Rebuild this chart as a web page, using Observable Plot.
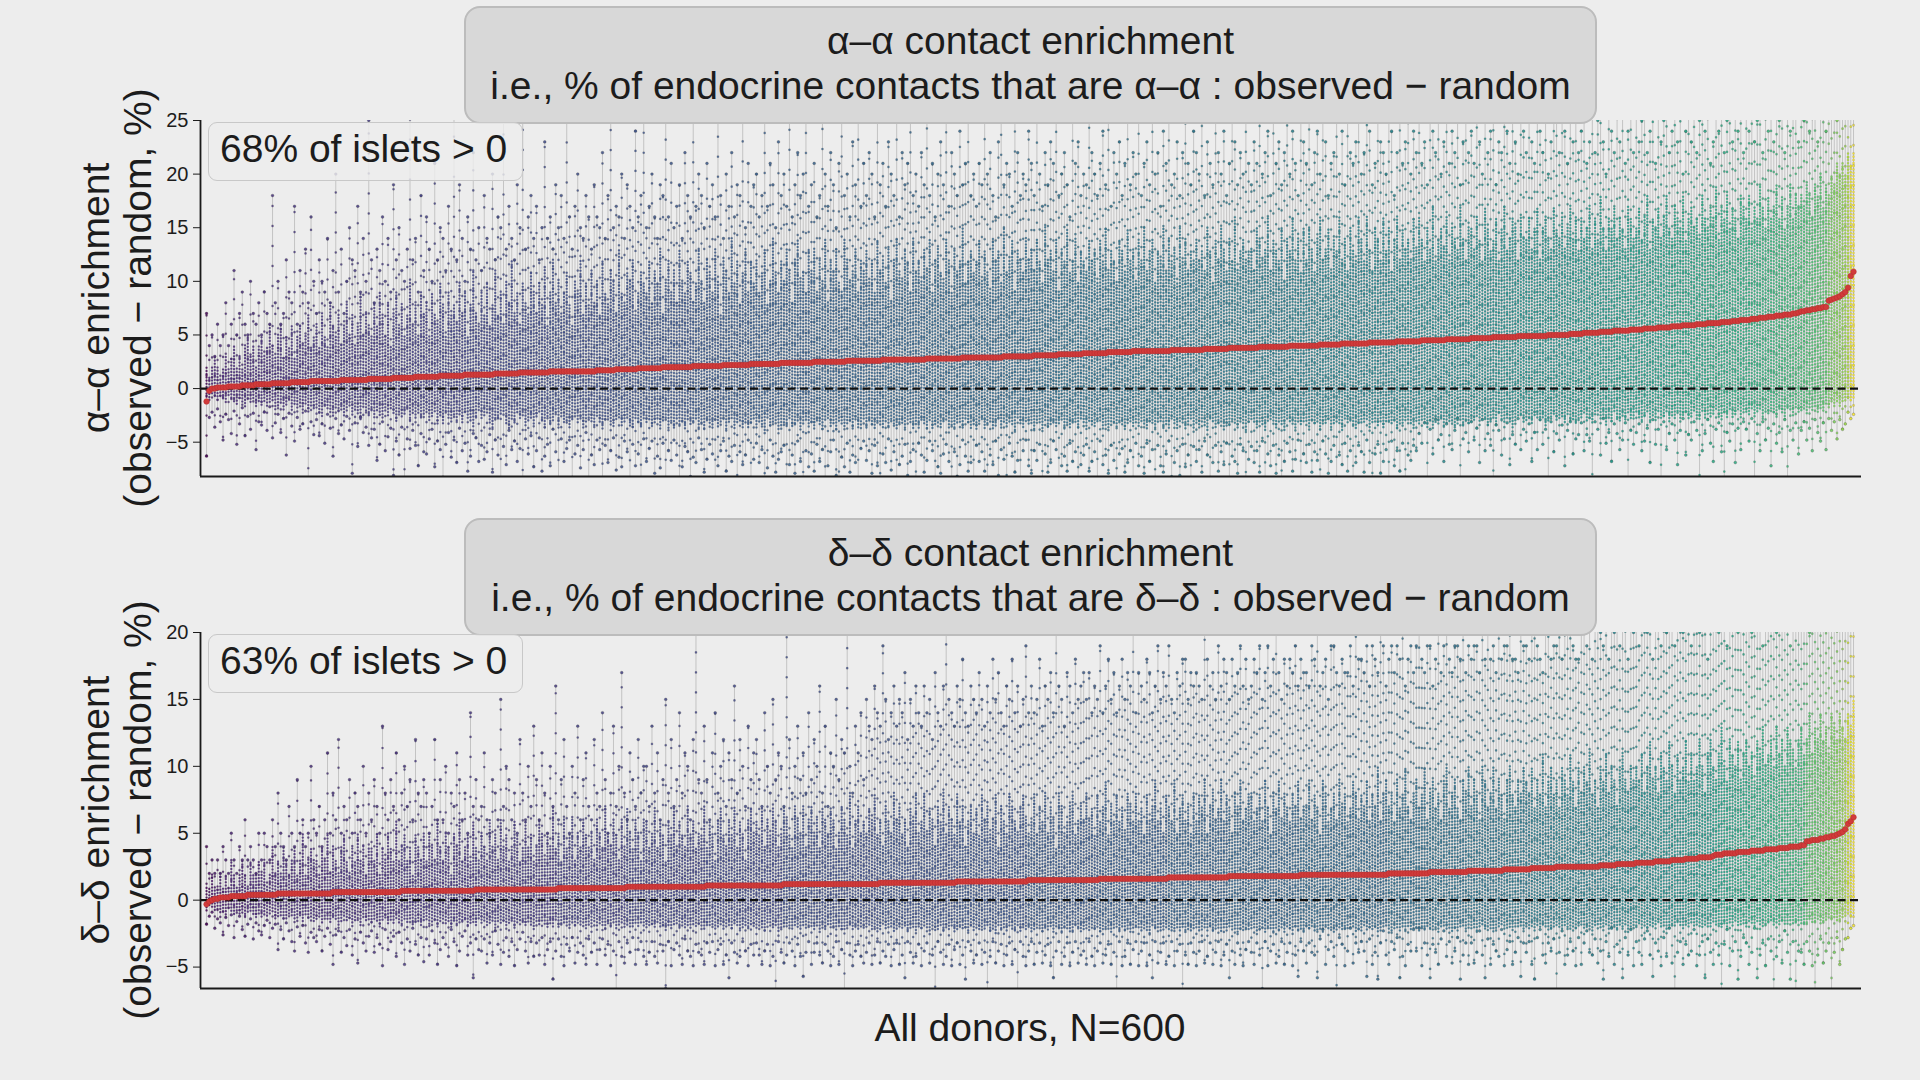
<!DOCTYPE html>
<html>
<head>
<meta charset="utf-8">
<script src="https://cdn.jsdelivr.net/npm/d3@7"></script>
<script src="https://cdn.jsdelivr.net/npm/@observablehq/plot@0.6"></script>
<style>
html, body { margin: 0; padding: 0; background: #ededed; }
#root { position: relative; width: 1920px; height: 1080px; overflow: hidden; font-family: "Liberation Sans", Arial, Helvetica, sans-serif; color: #1c1c1c; }
.panel { position: absolute; left: 0; }
.title { position: absolute; left: 464px; width: 1133px; height: 118px; background: #d8d8d8; border: 2px solid #bcbcbc; border-radius: 16px; box-sizing: border-box; text-align: center; font-size: 39px; line-height: 45px; padding-top: 10px; z-index: 3; white-space: nowrap; }
.note { position: absolute; left: 208px; width: 315px; height: 59px; background: rgba(237,237,237,0.82); border: 1.5px solid #c8c8c8; border-radius: 9px; box-sizing: border-box; font-size: 39px; line-height: 52px; padding-left: 11px; z-index: 3; white-space: nowrap; }
.ylab { position: absolute; font-size: 39px; line-height: 1; white-space: nowrap; transform: translate(-50%, -50%) rotate(-90deg); z-index: 3; }
.xlab { position: absolute; font-size: 39px; line-height: 1; white-space: nowrap; transform: translate(-50%, -50%); z-index: 3; }
</style>
</head>
<body>
<div id="root"></div>
<script>
// ---------- α–α panel (donors sorted by median) ----------
const medA = [
-1.2,-0.2,0.0,0.0,0.1,0.1,0.1,0.1,0.2,0.2,0.2,0.2,0.2,0.3,0.3,0.3,0.3,0.3,0.4,0.4,
0.4,0.4,0.4,0.4,0.5,0.5,0.5,0.5,0.5,0.5,0.5,0.6,0.6,0.6,0.6,0.6,0.6,0.6,0.7,0.7,
0.7,0.7,0.7,0.7,0.7,0.7,0.7,0.7,0.7,0.8,0.8,0.8,0.8,0.8,0.8,0.8,0.8,0.8,0.8,0.9,
0.9,0.9,0.9,0.9,0.9,0.9,0.9,0.9,1.0,1.0,1.0,1.0,1.0,1.0,1.0,1.0,1.1,1.1,1.1,1.1,
1.1,1.1,1.1,1.1,1.1,1.2,1.2,1.2,1.2,1.2,1.2,1.2,1.2,1.2,1.3,1.3,1.3,1.3,1.3,1.3,
1.3,1.3,1.3,1.3,1.3,1.4,1.4,1.4,1.4,1.4,1.4,1.4,1.4,1.4,1.5,1.5,1.5,1.5,1.5,1.5,
1.5,1.5,1.5,1.5,1.5,1.6,1.6,1.6,1.6,1.6,1.6,1.6,1.6,1.6,1.6,1.6,1.6,1.6,1.6,1.6,
1.6,1.6,1.7,1.7,1.7,1.7,1.7,1.7,1.7,1.8,1.8,1.8,1.8,1.8,1.8,1.8,1.8,1.9,1.9,1.9,
1.9,1.9,1.9,1.9,1.9,1.9,2.0,2.0,2.0,2.0,2.0,2.0,2.0,2.0,2.0,2.0,2.0,2.1,2.1,2.1,
2.1,2.1,2.1,2.1,2.1,2.1,2.1,2.1,2.2,2.2,2.2,2.2,2.2,2.2,2.2,2.2,2.2,2.2,2.3,2.3,
2.3,2.3,2.3,2.3,2.3,2.3,2.3,2.3,2.3,2.4,2.4,2.4,2.4,2.4,2.4,2.4,2.4,2.4,2.4,2.4,
2.4,2.5,2.5,2.5,2.5,2.5,2.5,2.5,2.5,2.5,2.5,2.5,2.5,2.6,2.6,2.6,2.6,2.6,2.6,2.6,
2.6,2.6,2.6,2.6,2.6,2.6,2.7,2.7,2.7,2.7,2.7,2.7,2.7,2.7,2.7,2.7,2.7,2.7,2.7,2.7,
2.7,2.7,2.8,2.8,2.8,2.8,2.8,2.8,2.8,2.8,2.8,2.8,2.8,2.8,2.8,2.9,2.9,2.9,2.9,2.9,
2.9,2.9,2.9,2.9,2.9,2.9,2.9,2.9,2.9,2.9,3.0,3.0,3.0,3.0,3.0,3.0,3.0,3.0,3.0,3.0,
3.0,3.1,3.1,3.1,3.1,3.1,3.1,3.1,3.1,3.1,3.2,3.2,3.2,3.2,3.2,3.2,3.2,3.2,3.2,3.3,
3.3,3.3,3.3,3.3,3.3,3.3,3.3,3.3,3.4,3.4,3.4,3.4,3.4,3.4,3.4,3.4,3.4,3.5,3.5,3.5,
3.5,3.5,3.5,3.5,3.5,3.5,3.5,3.5,3.5,3.5,3.5,3.6,3.6,3.6,3.6,3.6,3.6,3.6,3.6,3.6,
3.6,3.6,3.6,3.7,3.7,3.7,3.7,3.7,3.7,3.7,3.7,3.7,3.8,3.8,3.8,3.8,3.8,3.8,3.8,3.8,
3.8,3.8,3.8,3.9,3.9,3.9,3.9,3.9,3.9,3.9,3.9,3.9,3.9,3.9,4.0,4.0,4.0,4.0,4.0,4.0,
4.0,4.0,4.0,4.0,4.0,4.1,4.1,4.1,4.1,4.1,4.1,4.1,4.1,4.2,4.2,4.2,4.2,4.2,4.2,4.2,
4.2,4.2,4.2,4.3,4.3,4.3,4.3,4.3,4.3,4.3,4.3,4.3,4.3,4.4,4.4,4.4,4.4,4.4,4.4,4.4,
4.4,4.4,4.5,4.5,4.5,4.5,4.5,4.5,4.5,4.5,4.5,4.6,4.6,4.6,4.6,4.6,4.6,4.6,4.6,4.6,
4.7,4.7,4.7,4.7,4.7,4.7,4.7,4.7,4.8,4.8,4.8,4.8,4.8,4.8,4.8,4.8,4.8,4.9,4.9,4.9,
4.9,4.9,4.9,4.9,4.9,4.9,4.9,4.9,5.0,5.0,5.0,5.0,5.0,5.0,5.0,5.0,5.1,5.1,5.1,5.1,
5.1,5.2,5.2,5.2,5.2,5.2,5.2,5.3,5.3,5.3,5.3,5.3,5.4,5.4,5.4,5.4,5.4,5.4,5.5,5.5,
5.5,5.5,5.5,5.6,5.6,5.6,5.6,5.6,5.7,5.7,5.7,5.7,5.7,5.8,5.8,5.8,5.8,5.9,5.9,5.9,
5.9,5.9,6.0,6.0,6.0,6.0,6.1,6.1,6.1,6.1,6.1,6.2,6.2,6.2,6.2,6.3,6.3,6.3,6.4,6.4,
6.4,6.4,6.5,6.5,6.5,6.6,6.6,6.6,6.7,6.7,6.7,6.8,6.8,6.8,6.9,6.9,6.9,7.0,7.0,7.1,
7.2,7.2,7.3,7.3,7.4,7.4,7.5,7.5,7.6,7.6,8.2,8.3,8.4,8.5,8.6,8.8,9.0,9.4,10.5,10.9
];
const hiA = [
7,4,5,3,6,4,5,8,4,6,11,5,7,9,6,5,10,7,6,8,
5,9,7,6,18,8,10,6,7,12,9,8,17,6,11,9,13,8,16,10,
7,12,10,9,14,8,11,20,9,13,7,10,15,12,11,17,9,14,10,25,
12,8,13,11,16,10,14,9,19,12,15,11,10,13,27,12,14,9,18,11,
16,13,10,21,12,15,14,11,17,13,27,12,19,14,10,16,13,22,12,15,
11,18,14,13,20,12,16,15,27,13,17,14,12,19,15,27,13,16,18,14,
17,12,15,23,14,16,13,19,15,18,14,27,16,13,17,20,15,14,18,16,
13,19,16,15,22,14,18,27,15,17,16,20,14,19,17,15,24,16,18,27,
15,17,20,16,14,19,18,27,16,21,15,17,19,14,22,18,16,27,17,20,
18,15,21,17,19,16,27,18,14,20,17,22,16,19,18,27,15,21,17,19,
20,16,18,27,17,21,19,15,23,18,20,17,27,16,19,22,18,20,27,17,
19,21,16,18,27,20,17,22,19,15,21,27,18,20,16,23,19,27,17,21,
18,22,20,16,27,19,21,17,23,20,18,27,16,22,19,21,27,18,20,17,
22,19,27,18,21,16,20,23,19,27,17,22,20,18,24,19,21,27,18,20,
17,21,19,27,20,22,18,16,23,27,19,21,20,17,27,22,18,20,19,24,
21,18,27,20,17,22,19,23,21,27,18,20,22,19,16,27,21,23,18,20,
19,27,22,20,18,21,24,19,27,17,22,20,23,18,21,27,19,22,20,27,
18,21,23,19,27,20,22,17,24,21,27,19,20,23,18,22,27,21,19,24,
22,20,27,18,23,21,19,27,22,20,24,18,21,27,23,19,22,20,27,21,
19,23,21,27,20,22,24,18,27,21,23,19,22,27,20,24,21,18,27,23,
21,27,19,22,24,20,27,23,18,21,22,27,20,24,19,27,22,21,23,27,
20,22,27,24,19,21,27,23,22,20,27,24,18,22,27,21,23,27,20,24,
22,27,21,23,19,27,24,22,27,20,23,27,21,24,22,27,19,23,27,22,
24,21,27,23,20,27,22,24,27,19,23,22,27,24,21,27,23,20,27,24,
22,27,23,21,27,24,22,27,20,23,27,25,22,27,24,21,27,23,27,22,
24,27,21,23,27,22,25,27,23,20,27,24,22,27,23,27,21,24,27,22,
27,23,25,27,22,24,27,21,27,23,25,27,22,24,27,23,27,20,24,27,
23,27,22,25,27,24,27,21,23,27,24,27,22,25,27,23,27,24,27,22,
27,24,27,23,25,27,22,27,24,27,23,27,25,27,22,27,24,27,27,23,
27,25,27,24,27,27,23,27,27,24,27,27,27,25,27,27,27,27,27,27
];
const loA = [
-6.3,-2.7,-2.2,-3.6,-1.9,-3.1,-4.8,-2.4,-2.9,-4.2,-2.1,-5.2,-3.3,-1.8,-4.4,-2.6,-3.8,-2.3,-5.7,-3.1,
-3.4,-2.2,-3.9,-1.7,-4.6,-3.2,-2.4,-4.1,-2.8,-6.2,-2.3,-3.5,-4.9,-2.7,-3.8,-3.3,-2.1,-8.8,-3.1,-4.3,
-2.9,-4.4,-3.3,-5.1,-2.4,-3.7,-6.3,-2.8,-4.2,-3.4,-4.7,-2.6,-3.9,-7.9,-3.2,-5.4,-2.7,-4.1,-3.6,-5.3,
-4.6,-3.8,-6.7,-5.2,-3.1,-5.8,-4.5,-3.7,-8.1,-4.9,-6.2,-3.6,-8.9,-4.7,-5.6,-3.9,-5.3,-7.2,-4.2,-5.9,
-6.1,-4.7,-3.8,-7.3,-4.9,-5.7,-9.6,-5.2,-4.1,-6.4,-4.8,-6.9,-3.7,-5.8,-5.1,-7.7,-6.3,-4.2,-4.6,-6.8,
-5.3,-6.6,-5.9,-4.3,-7.8,-4.8,-6.2,-9.8,-5.4,-7.1,-3.9,-5.7,-4.9,-6.8,-5.6,-8.7,-4.7,-6.1,-4.4,-7.3,
-5.8,-4.6,-7.7,-6.3,-5.2,-7.2,-3.8,-5.9,-9.9,-4.7,-6.8,-5.6,-4.8,-8.3,-6.1,-5.3,-7.4,-5.7,-4.1,-8.8,
-6.2,-7.1,-4.8,-5.7,-9.7,-5.3,-6.9,-5.8,-4.6,-7.6,-6.4,-7.3,-4.9,-5.9,-8.6,-5.2,-7.2,-6.1,-9.8,-4.7,
-6.8,-5.6,-4.9,-7.9,-6.3,-7.4,-5.1,-8.8,-5.8,-6.7,-4.8,-6.2,-9.9,-7.3,-5.4,-5.9,-8.2,-6.4,-6.9,-4.6,
-5.7,-7.8,-6.6,-5.2,-6.1,-9.6,-7.2,-5.8,-4.9,-7.7,-6.3,-6.8,-5.3,-8.9,-5.9,-7.1,-6.2,-4.8,-8.3,-6.6,
-5.1,-6.9,-5.7,-9.8,-7.4,-4.8,-6.3,-7.8,-6.6,-5.9,-5.3,-8.7,-7.1,-6.2,-7.9,-4.9,-6.8,-9.7,-5.8,-7.3,
-6.1,-7.7,-5.2,-6.8,-5.7,-8.9,-7.2,-5.9,-4.8,-8.1,-9.9,-6.4,-7.3,-5.1,-7.8,-6.2,-6.9,-8.8,-5.6,-4.9,
-6.7,-5.8,-7.9,-5.3,-7.2,-9.8,-6.1,-6.9,-4.7,-7.6,-5.9,-8.8,-7.1,-6.3,-5.2,-8.1,-6.8,-5.7,-9.9,-5.1,
-6.2,-7.8,-6.7,-4.9,-5.8,-8.9,-7.3,-7.9,-6.1,-5.2,-6.8,-9.7,-5.9,-8.2,-7.1,-4.8,-6.3,-7.7,-6.9,-8.8,
-5.3,-6.8,-5.9,-7.7,-9.8,-6.2,-7.1,-4.9,-8.1,-5.7,-6.6,-8.9,-5.1,-6.3,-7.8,-6.7,-9.9,-5.8,-4.8,-7.2,
-7.9,-5.8,-6.7,-5.2,-8.8,-6.1,-7.8,-6.9,-4.9,-5.7,-9.7,-7.2,-6.3,-7.7,-5.1,-6.8,-5.9,-8.7,-7.1,-6.2,
-5.2,-7.7,-6.8,-5.9,-9.8,-4.9,-7.1,-6.2,-7.9,-5.3,-6.7,-8.8,-6.1,-5.6,-7.8,-6.9,-5.8,-9.9,-5.1,-7.2,
-6.3,-7.9,-5.1,-6.8,-5.7,-8.9,-5.3,-7.2,-7.8,-6.1,-4.9,-9.8,-6.9,-5.8,-8.1,-5.2,-7.3,-6.2,-8.8,-5.4,
-6.8,-5.7,-7.8,-4.9,-6.2,-9.9,-6.9,-5.3,-7.7,-5.9,-7.1,-5.1,-8.7,-6.3,-6.8,-7.9,-5.2,-5.8,-9.7,-6.6,
-5.4,-6.9,-5.8,-7.8,-4.9,-8.8,-6.1,-7.2,-5.3,-7.9,-6.2,-9.8,-6.8,-5.1,-5.9,-7.7,-6.6,-4.8,-8.9,-6.1,
-6.9,-5.2,-7.8,-5.9,-6.7,-9.7,-4.9,-6.1,-7.9,-6.8,-5.3,-8.8,-6.2,-7.1,-5.1,-7.7,-5.8,-9.9,-6.9,-5.3,
-5.9,-7.8,-4.8,-6.9,-8.7,-6.1,-5.2,-7.9,-6.8,-5.7,-9.8,-4.9,-7.2,-5.8,-7.7,-5.1,-8.9,-6.2,-6.7,-5.3,
-5.8,-4.2,-5.1,-3.2,-9.9,-3.8,-6.1,-2.9,-4.8,-4.3,-6.8,-3.3,-5.2,-5.7,-3.9,-2.8,-8.8,-4.7,-4.1,-5.9,
-3.1,-4.8,-3.7,-6.9,-2.9,-5.8,-4.2,-5.3,-9.8,-3.4,-3.9,-6.2,-4.7,-3.2,-7.1,-4.3,-5.2,-2.8,-5.7,-3.8,
-4.9,-3.3,-6.8,-4.1,-5.7,-2.9,-5.2,-3.8,-8.9,-3.1,-5.9,-4.2,-4.8,-3.4,-7.2,-3.9,-3.1,-6.1,-4.7,-4.3,
-3.2,-5.8,-4.3,-4.9,-9.9,-3.1,-3.8,-6.2,-2.8,-5.1,-4.1,-6.8,-3.3,-4.2,-5.7,-4.8,-3.2,-8.8,-3.9,-5.2,
-4.1,-3.3,-5.8,-4.9,-3.7,-6.9,-2.9,-5.2,-3.8,-9.8,-3.1,-5.7,-4.2,-3.3,-4.8,-7.1,-3.9,-2.8,-6.2,-4.3,
-4.8,-3.1,-3.9,-8.9,-5.8,-4.2,-2.9,-5.1,-6.8,-3.8,-3.2,-5.9,-9.9,-4.1,-4.9,-3.3,-6.9,-3.7,-5.7,-3.1,
-3.8,-4.9,-2.8,-9.8,-4.2,-5.8,-3.1,-4.8,-3.7,-7.2,-3.3,-5.1,-4.1,-5.9,-2.9,-8.9,-3.9,-4.8,-3.2,-6.1,
-3.9,-3.1,-4.8,-3.7,-5.8,-2.9,-4.1,-4.9,-3.2,-5.7,-2.8,-3.9,-3.1,-4.7,-2.9,-3.8,-3.3,-2.2,-2.8,-2.4
];
const upA = [
2,1,2,3,2,1,2,3,2,3,4,2,3,2,4,5,3,4,2,4,
5,3,4,6,4,3,5,6,3,5,4,6,3,5,6,4,5,7,4,5,
6,4,7,5,4,8,6,5,7,4,6,8,5,7,4,6,9,5,7,6,
5,8,6,9,7,5,8,4,7,9,6,8,5,7,10,6,8,5,9,7,
8,5,9,7,6,10,8,5,9,7,8,6,10,7,9,5,8,11,7,6,
9,7,10,6,8,11,7,9,6,10,8,12,7,9,6,10,8,7,11,9,
7,10,8,11,6,9,12,8,10,7,9,11,8,6,10,9,12,7,10,8,
11,8,10,7,12,9,8,11,10,7,13,9,8,11,10,12,7,9,11,10,
9,12,8,11,10,13,7,10,12,9,11,8,13,10,9,12,11,8,10,13,
10,8,12,11,9,13,10,7,12,11,9,14,10,12,8,11,13,9,12,10,
12,9,11,13,8,10,14,11,9,12,10,13,11,8,12,14,10,11,9,13,
11,13,9,12,10,14,8,12,11,13,10,9,14,12,10,11,13,9,12,11,
13,10,12,9,14,11,12,10,13,8,12,14,11,10,13,12,9,14,11,12,
10,13,11,14,9,12,13,11,10,14,12,9,13,11,12,15,10,12,13,11,
12,14,10,13,11,9,14,12,13,10,15,11,12,14,9,13,12,11,14,12,
13,11,14,12,10,15,12,13,11,14,9,13,12,15,11,12,14,10,13,12,
11,14,12,13,10,14,12,15,11,13,12,10,14,13,11,15,12,13,10,14,
12,15,11,13,14,10,13,12,15,11,14,12,13,10,15,12,14,11,13,12,
14,12,13,11,15,13,10,14,12,15,13,11,14,12,16,11,13,14,12,13,
13,11,15,14,12,13,16,11,14,13,12,15,10,14,13,16,12,14,11,15,
12,15,13,11,14,16,12,13,15,11,14,13,16,12,14,11,15,13,12,16,
14,12,16,13,11,15,14,12,16,13,15,11,14,16,12,15,13,14,12,16,
13,16,14,12,15,13,17,12,14,15,13,16,12,15,14,13,17,14,12,15,
15,13,16,14,12,17,15,13,14,16,12,15,17,13,14,16,15,12,16,14,
14,16,13,15,17,12,15,16,14,13,17,15,14,16,13,15,17,14,16,13,
16,14,15,17,13,16,14,18,15,13,16,15,17,14,16,15,13,17,16,14,
15,17,14,16,18,13,16,15,17,14,16,18,15,14,17,16,15,18,14,16,
17,15,16,14,18,16,15,17,16,19,14,17,16,18,15,17,16,14,18,17,
16,18,15,17,16,19,17,15,18,16,17,19,16,18,15,17,19,16,18,17,
18,17,19,18,16,19,18,20,17,19,18,20,19,21,20,21,20,22,21,22
];
const dnA = [
-0.8,-1.1,-0.7,-0.9,-1.2,-0.8,-1.0,-1.3,-0.9,-1.1,-1.4,-1.6,-1.0,-1.3,-1.7,-1.2,-1.5,-1.1,-1.8,-1.3,
-1.6,-1.2,-1.9,-1.5,-1.3,-2.1,-1.7,-1.4,-2.0,-1.8,-1.3,-2.2,-1.6,-1.9,-1.4,-2.3,-1.7,-2.4,-1.8,-2.0,
-1.9,-2.3,-2.6,-1.8,-2.1,-2.4,-2.7,-1.9,-2.2,-2.0,-2.8,-2.3,-1.8,-2.6,-2.1,-2.4,-2.9,-2.0,-2.3,-2.7,
-2.2,-2.8,-2.1,-2.5,-3.0,-2.3,-2.7,-2.0,-2.4,-3.1,-2.2,-2.9,-2.6,-2.1,-3.2,-2.4,-2.8,-2.3,-3.0,-2.6,
-2.4,-3.1,-2.7,-2.2,-3.3,-2.8,-3.5,-2.3,-2.9,-3.2,-2.5,-3.0,-2.7,-3.4,-2.4,-2.9,-3.1,-3.6,-2.6,-2.3,
-3.0,-2.7,-2.4,-3.3,-3.7,-2.8,-3.1,-2.6,-2.3,-3.4,-3.8,-2.9,-3.2,-2.5,-3.0,-2.7,-3.6,-3.1,-2.8,-3.3,
-2.9,-2.4,-3.2,-3.8,-2.7,-3.4,-3.0,-2.5,-3.9,-2.8,-3.3,-3.1,-3.7,-2.9,-2.6,-3.4,-3.0,-3.8,-3.2,-2.8,
-3.1,-3.7,-2.8,-3.3,-3.9,-3.0,-2.7,-3.4,-3.8,-3.1,-2.9,-3.6,-3.2,-2.8,-3.5,-3.9,-3.0,-3.3,-3.7,-2.9,
-3.2,-2.9,-3.8,-3.4,-3.0,-3.9,-3.1,-2.8,-3.7,-3.3,-3.9,-3.0,-3.5,-3.2,-3.8,-2.9,-3.6,-3.3,-3.0,-3.8,
-3.3,-3.8,-3.0,-3.5,-3.9,-3.1,-3.7,-3.2,-2.9,-3.8,-3.4,-3.0,-3.9,-3.3,-3.1,-3.7,-3.2,-3.9,-3.4,-3.0,
-3.8,-3.2,-3.4,-3.9,-3.0,-3.7,-3.3,-3.1,-3.9,-3.5,-3.2,-3.8,-3.0,-3.7,-3.4,-3.1,-3.9,-3.3,-3.2,-3.8,
-3.3,-3.9,-3.1,-3.4,-3.8,-3.2,-3.0,-3.7,-3.4,-3.9,-3.1,-3.3,-3.8,-3.5,-3.2,-3.9,-3.0,-3.7,-3.4,-3.1,
-3.9,-3.2,-3.5,-3.8,-3.1,-3.4,-3.9,-3.3,-3.7,-3.0,-3.4,-3.8,-3.2,-3.5,-3.9,-3.1,-3.3,-3.8,-3.4,-3.7,
-3.2,-3.5,-3.9,-3.1,-3.8,-3.4,-3.2,-3.9,-3.3,-3.1,-3.8,-3.5,-3.7,-3.2,-3.4,-3.9,-3.0,-3.3,-3.8,-3.4,
-3.8,-3.3,-3.1,-3.9,-3.4,-3.2,-3.8,-3.5,-3.1,-3.9,-3.3,-3.7,-3.2,-3.4,-3.9,-3.0,-3.5,-3.8,-3.2,-3.4,
-3.3,-3.8,-3.2,-3.4,-3.9,-3.1,-3.7,-3.4,-3.2,-3.8,-3.5,-3.1,-3.9,-3.3,-3.7,-3.2,-3.4,-3.9,-3.0,-3.3,
-3.9,-3.1,-3.4,-3.8,-3.3,-3.2,-3.9,-3.5,-3.7,-3.1,-3.4,-3.8,-3.2,-3.5,-3.9,-3.3,-3.1,-3.8,-3.4,-3.7,
-3.2,-3.4,-3.8,-3.1,-3.5,-3.9,-3.3,-3.2,-3.8,-3.4,-3.7,-3.1,-3.5,-3.9,-3.2,-3.3,-3.8,-3.4,-3.1,-3.9,
-3.4,-3.8,-3.2,-3.5,-3.9,-3.1,-3.3,-3.8,-3.4,-3.2,-3.9,-3.5,-3.7,-3.1,-3.4,-3.8,-3.2,-3.3,-3.9,-3.4,
-3.1,-3.3,-3.8,-3.2,-3.4,-3.9,-3.3,-3.1,-3.5,-3.8,-3.2,-3.4,-3.9,-3.1,-3.3,-3.5,-3.8,-3.2,-3.4,-3.1,
-3.3,-3.8,-3.1,-3.4,-3.2,-3.9,-3.3,-3.5,-3.1,-3.8,-3.4,-3.2,-3.3,-3.9,-3.1,-3.4,-3.2,-3.5,-3.8,-3.3,
-3.2,-3.4,-3.1,-3.8,-3.3,-3.2,-3.5,-3.1,-3.9,-3.3,-3.2,-3.4,-3.1,-3.8,-3.3,-3.5,-3.2,-3.1,-3.4,-3.8,
-3.1,-3.3,-3.2,-3.4,-3.8,-3.1,-3.5,-3.2,-3.3,-3.1,-3.7,-3.4,-3.2,-3.1,-3.5,-3.3,-3.2,-3.7,-3.1,-3.4,
-3.2,-3.0,-2.6,-3.3,-3.1,-2.9,-3.6,-3.2,-2.8,-3.4,-2.5,-3.1,-3.3,-2.9,-3.2,-3.7,-3.0,-2.8,-2.6,-3.3,
-3.1,-2.8,-3.3,-2.5,-3.0,-3.2,-2.9,-3.6,-3.1,-2.7,-2.4,-3.2,-3.0,-2.8,-3.3,-2.5,-3.1,-2.9,-3.5,-3.0,
-2.9,-2.4,-3.1,-2.8,-3.2,-2.7,-2.3,-3.0,-2.9,-3.5,-2.8,-3.1,-2.4,-2.9,-3.2,-2.7,-3.0,-2.3,-2.8,-3.1,
-2.4,-2.9,-3.1,-2.7,-2.2,-3.0,-2.8,-3.2,-2.3,-2.9,-2.7,-2.2,-3.1,-2.8,-3.0,-2.3,-2.9,-2.6,-2.2,-2.8,
-2.9,-2.3,-2.7,-3.0,-2.2,-2.8,-2.4,-2.9,-2.6,-2.1,-2.8,-3.0,-2.3,-2.7,-2.2,-2.9,-2.6,-2.1,-2.8,-2.3,
-2.2,-2.7,-2.1,-2.8,-2.3,-2.0,-2.7,-2.2,-2.6,-2.1,-2.4,-2.8,-2.0,-2.3,-2.6,-2.1,-2.2,-2.7,-1.9,-2.3,
-2.1,-1.9,-2.6,-2.0,-2.2,-1.8,-2.3,-1.9,-2.1,-1.7,-2.0,-1.4,-1.8,-1.3,-1.7,-1.2,-1.4,-1.1,-1.3,-1.0
];

// ---------- δ–δ panel (donors sorted by median) ----------
const medB = [
-0.3,-0.1,0.0,0.1,0.1,0.2,0.2,0.2,0.2,0.3,0.3,0.3,0.3,0.3,0.3,0.4,0.4,0.4,0.4,0.4,
0.4,0.4,0.4,0.4,0.4,0.4,0.5,0.5,0.5,0.5,0.5,0.5,0.5,0.5,0.5,0.5,0.5,0.5,0.5,0.5,
0.5,0.5,0.5,0.5,0.5,0.5,0.6,0.6,0.6,0.6,0.6,0.6,0.6,0.6,0.6,0.6,0.6,0.6,0.6,0.6,
0.6,0.6,0.6,0.6,0.6,0.6,0.6,0.6,0.6,0.6,0.6,0.7,0.7,0.7,0.7,0.7,0.7,0.7,0.7,0.7,
0.7,0.7,0.7,0.7,0.7,0.7,0.7,0.7,0.7,0.7,0.7,0.7,0.7,0.7,0.7,0.7,0.7,0.7,0.8,0.8,
0.8,0.8,0.8,0.8,0.8,0.8,0.8,0.8,0.8,0.8,0.8,0.8,0.8,0.8,0.8,0.8,0.8,0.8,0.8,0.8,
0.8,0.8,0.8,0.8,0.8,0.8,0.8,0.8,0.9,0.9,0.9,0.9,0.9,0.9,0.9,0.9,0.9,0.9,0.9,0.9,
0.9,0.9,0.9,0.9,0.9,0.9,0.9,0.9,0.9,0.9,0.9,0.9,0.9,1.0,1.0,1.0,1.0,1.0,1.0,1.0,
1.0,1.0,1.0,1.0,1.0,1.0,1.0,1.0,1.0,1.0,1.0,1.0,1.0,1.0,1.0,1.0,1.0,1.0,1.0,1.0,
1.0,1.0,1.1,1.1,1.1,1.1,1.1,1.1,1.1,1.1,1.1,1.1,1.1,1.1,1.1,1.1,1.1,1.1,1.1,1.1,
1.1,1.1,1.1,1.1,1.1,1.1,1.1,1.1,1.1,1.1,1.2,1.2,1.2,1.2,1.2,1.2,1.2,1.2,1.2,1.2,
1.2,1.2,1.2,1.2,1.2,1.2,1.2,1.2,1.2,1.2,1.2,1.2,1.2,1.2,1.2,1.2,1.2,1.2,1.2,1.2,
1.2,1.2,1.2,1.2,1.2,1.3,1.3,1.3,1.3,1.3,1.3,1.3,1.3,1.3,1.3,1.3,1.3,1.3,1.3,1.3,
1.3,1.3,1.3,1.3,1.3,1.3,1.3,1.3,1.3,1.3,1.3,1.3,1.3,1.4,1.4,1.4,1.4,1.4,1.4,1.4,
1.4,1.4,1.4,1.4,1.4,1.4,1.4,1.4,1.4,1.4,1.4,1.4,1.4,1.4,1.4,1.4,1.4,1.4,1.4,1.5,
1.5,1.5,1.5,1.5,1.5,1.5,1.5,1.5,1.5,1.5,1.5,1.5,1.5,1.5,1.5,1.5,1.5,1.5,1.5,1.5,
1.5,1.5,1.5,1.5,1.5,1.6,1.6,1.6,1.6,1.6,1.6,1.6,1.6,1.6,1.6,1.6,1.6,1.6,1.6,1.6,
1.6,1.6,1.6,1.6,1.6,1.6,1.6,1.6,1.6,1.6,1.7,1.7,1.7,1.7,1.7,1.7,1.7,1.7,1.7,1.7,
1.7,1.7,1.7,1.7,1.7,1.7,1.7,1.7,1.7,1.7,1.7,1.7,1.8,1.8,1.8,1.8,1.8,1.8,1.8,1.8,
1.8,1.8,1.8,1.8,1.8,1.8,1.8,1.8,1.8,1.8,1.8,1.8,1.8,1.8,1.8,1.8,1.8,1.8,1.9,1.9,
1.9,1.9,1.9,1.9,1.9,1.9,1.9,1.9,1.9,1.9,1.9,1.9,1.9,1.9,1.9,1.9,1.9,1.9,1.9,1.9,
1.9,1.9,1.9,1.9,1.9,1.9,1.9,1.9,1.9,1.9,2.0,2.0,2.0,2.0,2.0,2.0,2.0,2.0,2.0,2.0,
2.0,2.0,2.0,2.0,2.0,2.1,2.1,2.1,2.1,2.1,2.1,2.1,2.1,2.1,2.1,2.1,2.1,2.1,2.1,2.2,
2.2,2.2,2.2,2.2,2.2,2.2,2.2,2.2,2.2,2.2,2.2,2.2,2.3,2.3,2.3,2.3,2.3,2.3,2.3,2.3,
2.3,2.3,2.4,2.4,2.4,2.4,2.4,2.4,2.4,2.4,2.4,2.5,2.5,2.5,2.5,2.5,2.5,2.5,2.5,2.5,
2.5,2.5,2.5,2.5,2.5,2.5,2.5,2.6,2.6,2.6,2.6,2.6,2.6,2.7,2.7,2.7,2.7,2.7,2.7,2.7,
2.8,2.8,2.8,2.8,2.8,2.8,2.8,2.9,2.9,2.9,2.9,2.9,2.9,3.0,3.0,3.0,3.0,3.0,3.1,3.1,
3.1,3.1,3.1,3.2,3.2,3.2,3.2,3.2,3.3,3.4,3.4,3.4,3.5,3.5,3.5,3.5,3.5,3.6,3.6,3.6,
3.6,3.6,3.7,3.7,3.7,3.7,3.7,3.8,3.8,3.8,3.8,3.8,3.9,3.9,3.9,3.9,4.0,4.0,4.0,4.0,
4.1,4.1,4.4,4.4,4.5,4.5,4.5,4.6,4.6,4.7,4.7,4.8,4.8,4.9,5.0,5.1,5.3,5.7,5.9,6.2
];
const hiB = [
4,2,3,2,3,2,4,3,2,5,3,2,4,3,6,3,4,3,2,5,
3,5,4,3,6,4,8,5,4,3,7,5,4,9,5,6,4,5,10,6,
5,7,4,6,11,5,8,6,12,5,7,6,9,5,8,7,6,10,5,8,
6,9,7,5,13,8,6,9,7,11,6,8,10,7,9,6,12,8,7,9,
8,5,7,12,6,9,6,10,5,8,7,11,9,6,8,5,14,7,9,6,
7,11,6,5,9,8,6,15,7,10,9,6,8,5,12,8,6,10,7,13,
9,6,11,8,5,10,7,16,6,9,12,7,5,10,8,13,6,9,11,7,
6,12,8,7,14,9,5,8,13,7,10,17,8,6,11,9,7,12,8,10,
10,7,13,8,11,6,9,15,8,12,7,9,14,8,11,10,6,12,21,9,
8,13,9,6,11,14,8,10,12,7,11,9,16,8,12,10,7,13,9,11,
12,9,7,14,10,8,15,9,11,10,7,21,12,8,10,13,9,11,8,14,
9,12,10,16,8,13,7,11,10,15,9,12,11,21,10,8,13,11,14,9,
15,13,12,16,14,13,19,15,12,14,16,13,15,14,17,12,15,13,16,14,
13,16,14,15,12,17,14,13,16,21,15,14,13,16,15,18,14,13,16,15,
14,17,15,13,16,14,18,15,17,14,13,16,15,18,14,16,13,15,19,14,
16,14,15,18,13,16,15,17,14,21,16,15,13,17,16,14,18,15,16,17,
15,17,14,16,15,19,14,16,18,15,17,14,16,18,15,17,16,21,14,17,
16,15,18,17,14,16,19,15,17,16,19,15,14,17,16,18,18,15,17,16,
17,16,15,21,18,16,17,15,19,16,18,17,15,18,16,17,19,16,18,15,
16,18,17,19,15,17,19,16,18,21,17,15,18,16,18,17,19,16,18,17,
17,16,19,18,21,16,17,18,15,19,19,17,16,18,17,17,19,16,21,18,
18,17,19,16,19,18,17,21,19,16,18,19,17,19,18,21,16,18,19,17,
19,21,18,17,19,19,16,18,20,17,19,21,18,17,19,19,18,21,17,19,
18,19,19,17,21,18,20,18,19,17,21,18,19,19,20,18,18,17,21,19,
19,18,20,21,19,18,17,21,20,18,19,19,21,18,20,20,21,19,18,18,
20,21,19,21,18,21,21,20,19,21,18,21,20,21,19,21,21,18,21,20,
21,19,21,21,20,21,18,21,21,19,21,20,21,21,19,21,21,20,21,21,
19,21,21,20,21,21,18,21,21,21,20,21,21,19,21,21,21,20,21,21,
21,21,20,21,21,21,19,21,21,21,21,20,21,21,21,21,19,21,21,21,
21,21,21,20,21,21,21,21,21,21,21,21,21,21,21,21,21,21,21,21
];
const loB = [
-1.8,-1.2,-0.9,-2.1,-1.4,-1.7,-2.6,-1.3,-1.9,-1.1,-2.8,-1.6,-1.2,-2.2,-2.7,-1.8,-1.4,-2.9,-1.7,-2.3,
-2.6,-1.9,-1.5,-2.8,-2.1,-1.8,-3.7,-2.2,-2.9,-1.7,-2.3,-3.1,-3.8,-2.0,-2.7,-1.9,-3.2,-3.9,-2.4,-2.8,
-3.1,-2.2,-3.8,-2.7,-2.1,-3.3,-4.8,-2.6,-2.3,-3.9,-2.8,-3.4,-2.2,-4.1,-2.9,-4.7,-2.4,-3.2,-3.8,-2.7,
-2.3,-3.9,-2.8,-3.3,-4.9,-2.2,-3.7,-3.1,-2.7,-4.2,-2.4,-3.2,-4.8,-2.9,-3.8,-2.1,-3.3,-4.1,-2.8,-4.6,
-2.9,-4.1,-2.3,-3.2,-4.8,-3.7,-2.8,-3.3,-4.2,-2.2,-3.1,-4.9,-3.8,-2.7,-2.3,-4.1,-3.2,-5.8,-2.9,-3.7,
-3.8,-2.9,-4.7,-3.2,-4.1,-2.3,-3.3,-4.8,-3.9,-2.8,-4.2,-3.1,-4.9,-3.7,-2.9,-2.4,-3.8,-4.7,-3.1,-4.2,
-3.2,-4.1,-2.8,-4.8,-3.7,-3.1,-5.9,-3.8,-2.9,-4.2,-4.9,-3.3,-3.8,-2.8,-4.7,-3.9,-3.2,-4.1,-4.8,-2.9,
-3.9,-3.2,-4.8,-3.7,-2.9,-4.1,-3.3,-4.9,-3.8,-6.7,-3.1,-4.2,-4.7,-3.2,-3.9,-2.8,-4.8,-3.7,-3.1,-4.2,
-4.8,-3.9,-3.1,-4.2,-4.7,-3.3,-3.8,-6.6,-3.1,-4.9,-3.7,-3.2,-4.1,-4.8,-2.9,-3.8,-4.2,-4.9,-3.3,-3.9,
-4.1,-4.8,-3.2,-3.9,-3.1,-4.9,-3.7,-3.3,-4.8,-4.1,-5.8,-3.2,-3.9,-4.7,-4.2,-3.1,-3.8,-4.9,-3.3,-4.1,
-3.2,-4.1,-4.8,-3.8,-3.3,-4.9,-4.2,-6.7,-3.1,-3.9,-4.7,-4.1,-3.2,-3.8,-4.9,-3.3,-4.2,-5.7,-3.9,-3.1,
-4.8,-3.9,-3.2,-4.1,-4.7,-3.3,-3.8,-4.9,-4.2,-3.1,-4.8,-3.7,-6.8,-3.2,-4.1,-4.9,-3.8,-3.3,-4.2,-4.7,
-3.9,-3.2,-4.8,-4.1,-3.1,-4.7,-3.8,-4.2,-3.3,-4.9,-3.7,-3.2,-4.8,-4.1,-5.8,-3.1,-3.9,-4.7,-4.2,-3.3,
-4.9,-3.8,-3.2,-4.7,-4.1,-6.7,-3.1,-3.9,-4.8,-4.2,-3.3,-4.9,-3.7,-3.2,-4.8,-4.1,-5.9,-3.1,-3.8,-4.7,
-4.1,-3.2,-4.8,-3.9,-6.8,-4.2,-3.1,-4.7,-3.8,-3.3,-4.9,-4.1,-3.2,-4.8,-3.7,-6.7,-3.1,-4.2,-4.9,-3.8,
-3.1,-4.8,-3.9,-3.2,-4.7,-4.1,-3.3,-4.9,-5.8,-3.8,-3.1,-4.8,-4.2,-3.2,-4.9,-3.9,-3.1,-4.7,-4.1,-3.8,
-4.8,-3.1,-4.2,-4.9,-3.8,-3.2,-4.7,-4.1,-3.3,-4.8,-3.9,-6.8,-3.1,-4.9,-4.2,-3.2,-4.8,-3.7,-3.1,-4.9,
-3.8,-3.2,-4.9,-4.1,-5.8,-3.1,-4.7,-3.9,-3.2,-4.8,-4.2,-3.1,-4.9,-3.8,-3.3,-6.7,-4.1,-4.8,-3.2,-3.9,
-4.9,-3.8,-3.1,-4.7,-4.2,-3.2,-4.8,-3.9,-3.1,-4.9,-4.1,-3.3,-5.8,-3.8,-4.8,-3.2,-4.1,-4.9,-3.7,-3.1,
-3.9,-4.8,-3.2,-4.1,-6.8,-3.1,-4.9,-3.8,-3.3,-4.7,-4.2,-3.1,-4.8,-3.9,-3.2,-4.9,-4.1,-5.7,-3.1,-3.8,
-4.7,-3.2,-3.9,-4.1,-5.8,-2.9,-2.2,-4.8,-3.7,-3.1,-4.2,-6.8,-2.8,-3.3,-4.9,-3.8,-2.1,-4.7,-3.2,-3.9,
-3.1,-3.8,-5.7,-2.9,-4.8,-3.9,-5.9,-3.2,-2.3,-4.1,-4.8,-3.1,-3.7,-2.8,-5.8,-4.2,-4.9,-3.3,-3.8,-2.2,
-3.8,-2.1,-4.9,-3.2,-4.1,-5.8,-3.3,-3.9,-4.8,-2.9,-2.3,-4.2,-3.1,-4.7,-3.8,-2.8,-5.9,-4.1,-3.2,-4.8,
-3.2,-4.7,-3.9,-2.3,-4.1,-5.8,-2.9,-4.8,-3.3,-3.8,-4.2,-2.2,-4.9,-3.7,-3.1,-4.8,-3.9,-2.8,-5.7,-3.2,
-3.9,-3.1,-4.8,-5.9,-2.8,-2.2,-4.1,-4.7,-3.2,-3.8,-2.9,-6.8,-3.9,-2.3,-4.8,-4.1,-3.1,-3.8,-4.9,-2.8,
-4.8,-3.2,-2.3,-3.9,-4.1,-2.9,-4.7,-3.8,-5.9,-3.1,-4.2,-2.1,-4.8,-3.3,-3.9,-5.8,-2.8,-4.1,-2.2,-4.9,
-3.1,-3.9,-4.8,-2.9,-2.3,-4.1,-5.7,-3.2,-3.8,-4.9,-2.8,-4.2,-2.1,-4.7,-6.8,-3.9,-3.1,-4.8,-3.3,-4.1,
-3.8,-2.2,-4.9,-4.1,-3.1,-5.8,-2.9,-3.9,-4.8,-3.2,-4.1,-6.7,-3.3,-2.2,-4.9,-3.8,-3.1,-5.9,-4.2,-2.8,
-3.2,-4.8,-3.9,-2.1,-5.8,-4.1,-3.2,-4.9,-2.9,-3.8,-6.8,-4.2,-3.1,-4.7,-2.3,-3.9,-5.9,-3.1,-6.7,-3.8,
-3.9,-4.8,-3.1,-3.8,-4.9,-6.8,-4.1,-2.9,-4.7,-3.8,-3.2,-6.7,-3.9,-2.8,-4.8,-3.7,-2.9,-2.8,-2.1,-1.9
];
const upB = [
1,1,2,1,1,2,1,2,1,3,2,1,2,3,2,1,3,2,2,3,
2,3,1,2,4,2,3,2,4,3,2,3,4,2,3,5,2,3,4,3,
3,2,4,3,5,2,4,3,2,4,5,3,2,4,3,5,3,4,2,4,
4,3,5,2,4,3,5,4,3,6,3,4,5,3,4,2,5,4,3,5,
3,5,4,3,6,4,3,5,4,2,5,4,6,3,4,5,3,6,4,3,
5,4,3,6,4,5,3,6,4,5,3,4,6,5,3,4,6,4,5,3,
4,6,5,3,5,4,7,4,5,3,6,4,5,6,3,5,4,6,5,4,
5,3,6,5,4,7,5,4,6,5,3,6,4,7,5,4,6,5,3,6,
6,4,5,7,4,6,5,3,6,5,7,4,6,5,4,7,5,6,4,5,
5,7,4,6,5,3,6,7,5,4,6,5,7,4,6,5,3,6,7,5,
6,5,7,4,6,5,7,6,4,5,7,6,5,4,7,6,5,7,4,6,
7,5,6,4,7,6,5,7,6,4,5,7,6,5,8,4,6,7,5,6,
5,7,6,8,5,6,4,7,6,5,8,6,7,5,6,4,7,6,8,5,
6,8,5,7,6,4,7,6,8,5,7,6,5,8,6,7,4,6,7,5,
7,5,8,6,7,5,6,8,4,7,6,5,8,7,6,5,7,8,6,5,
6,8,5,7,6,8,5,7,6,4,8,7,5,6,7,8,5,6,7,6,
8,6,7,5,8,6,7,9,5,7,6,8,6,7,5,8,7,6,8,6,
7,5,8,6,7,9,6,7,5,8,7,6,9,5,7,8,6,7,5,8,
6,8,7,9,5,7,8,6,7,9,6,8,7,5,8,7,9,6,7,8,
8,6,7,8,6,9,7,5,8,7,9,6,8,7,6,8,7,9,6,7,
7,9,6,8,7,5,9,8,6,7,8,6,9,7,8,6,7,9,8,6,
8,7,9,6,8,7,10,6,8,9,7,8,6,9,7,8,10,7,6,8,
9,7,8,10,6,8,9,7,8,6,9,10,7,8,9,7,6,9,8,10,
7,9,8,6,10,9,7,8,10,7,9,8,6,9,10,8,7,9,8,10,
9,8,10,7,9,8,11,7,9,10,8,9,7,10,9,8,11,9,7,10,
8,10,9,11,8,9,7,10,9,11,8,10,9,7,10,11,9,8,10,9,
10,9,11,8,10,12,9,10,8,11,10,9,12,10,8,11,9,10,12,9,
11,9,10,12,10,8,11,12,10,9,11,13,10,9,12,11,10,12,9,11,
12,10,11,9,12,11,13,10,11,12,10,13,11,12,10,13,12,11,10,12,
13,11,12,14,11,13,12,14,12,13,11,14,13,12,14,13,12,14,13,15
];
const dnB = [
-0.8,-0.6,-0.7,-0.9,-0.8,-1.0,-0.9,-1.1,-0.8,-1.0,-1.2,-0.9,-1.1,-1.0,-1.3,-1.1,-1.0,-1.2,-1.4,-1.1,
-1.3,-1.1,-1.4,-1.2,-1.0,-1.5,-1.3,-1.2,-1.4,-1.6,-1.2,-1.3,-1.5,-1.4,-1.2,-1.6,-1.3,-1.5,-1.4,-1.7,
-1.5,-1.3,-1.7,-1.4,-1.6,-1.8,-1.4,-1.5,-1.9,-1.6,-1.4,-1.7,-1.5,-1.8,-1.6,-1.4,-1.9,-1.5,-1.7,-1.6,
-1.8,-1.5,-1.6,-2.0,-1.7,-1.5,-1.9,-1.6,-1.8,-1.4,-1.7,-2.0,-1.6,-1.8,-1.5,-1.9,-1.7,-1.6,-2.1,-1.7,
-1.6,-1.9,-1.7,-1.5,-2.0,-1.8,-1.6,-1.9,-1.7,-2.1,-1.6,-1.8,-1.9,-1.7,-1.5,-2.0,-1.8,-1.7,-1.9,-1.6,
-1.9,-1.7,-2.0,-1.8,-1.6,-2.1,-1.8,-1.9,-1.7,-2.0,-1.8,-1.6,-2.1,-1.9,-1.7,-1.8,-2.0,-1.7,-1.9,-2.2,
-1.8,-2.0,-1.7,-1.9,-2.1,-1.8,-2.0,-1.7,-2.2,-1.9,-1.8,-2.0,-1.9,-1.7,-2.1,-1.9,-2.0,-1.8,-2.2,-1.9,
-2.0,-1.8,-2.1,-1.9,-2.0,-2.2,-1.8,-2.0,-1.9,-2.3,-2.0,-1.8,-2.1,-1.9,-2.0,-2.2,-1.9,-2.1,-1.8,-2.0,
-2.1,-1.9,-2.0,-2.2,-1.8,-2.1,-2.0,-2.3,-1.9,-2.1,-2.0,-1.9,-2.2,-2.0,-2.1,-1.9,-2.3,-2.0,-2.1,-1.9,
-2.0,-2.2,-1.9,-2.1,-2.0,-2.3,-2.1,-1.9,-2.2,-2.0,-2.1,-2.3,-1.9,-2.0,-2.2,-2.1,-1.9,-2.2,-2.0,-2.1,
-2.2,-2.0,-2.1,-2.3,-1.9,-2.1,-2.2,-2.0,-2.4,-2.1,-2.0,-2.2,-2.1,-2.3,-2.0,-2.1,-2.2,-1.9,-2.3,-2.1,
-2.1,-2.3,-2.0,-2.2,-2.1,-2.4,-2.0,-2.2,-2.1,-2.3,-2.0,-2.2,-2.4,-2.1,-2.0,-2.3,-2.1,-2.2,-2.0,-2.3,
-2.2,-2.0,-2.3,-2.1,-2.4,-2.2,-2.0,-2.3,-2.2,-2.1,-2.4,-2.2,-2.0,-2.3,-2.1,-2.5,-2.2,-2.1,-2.3,-2.0,
-2.3,-2.1,-2.2,-2.4,-2.0,-2.3,-2.2,-2.1,-2.5,-2.2,-2.3,-2.0,-2.4,-2.2,-2.1,-2.3,-2.2,-2.4,-2.0,-2.3,
-2.1,-2.4,-2.2,-2.3,-2.0,-2.4,-2.2,-2.5,-2.1,-2.3,-2.2,-2.4,-2.0,-2.2,-2.3,-2.1,-2.5,-2.2,-2.3,-2.1,
-2.4,-2.2,-2.3,-2.1,-2.5,-2.2,-2.3,-2.0,-2.4,-2.2,-2.3,-2.5,-2.1,-2.2,-2.4,-2.3,-2.1,-2.2,-2.5,-2.3,
-2.2,-2.3,-2.1,-2.4,-2.2,-2.5,-2.3,-2.1,-2.2,-2.4,-2.3,-2.2,-2.5,-2.1,-2.3,-2.2,-2.4,-2.3,-2.1,-2.2,
-2.4,-2.2,-2.3,-2.5,-2.1,-2.3,-2.2,-2.4,-2.3,-2.1,-2.2,-2.5,-2.3,-2.2,-2.4,-2.1,-2.3,-2.2,-2.5,-2.3,
-2.2,-2.4,-2.3,-2.1,-2.3,-2.2,-2.5,-2.3,-2.2,-2.4,-2.1,-2.3,-2.2,-2.4,-2.3,-2.5,-2.2,-2.3,-2.1,-2.4,
-2.3,-2.2,-2.4,-2.3,-2.1,-2.4,-2.2,-2.3,-2.5,-2.2,-2.3,-2.1,-2.4,-2.2,-2.3,-2.4,-2.1,-2.3,-2.2,-2.4,
-2.2,-2.3,-2.1,-2.4,-2.3,-2.2,-2.4,-2.1,-2.3,-2.2,-2.5,-2.3,-2.1,-2.2,-2.4,-2.3,-2.2,-2.1,-2.4,-2.2,
-2.3,-2.1,-2.4,-2.2,-2.3,-2.1,-2.4,-2.3,-2.2,-2.1,-2.3,-2.4,-2.2,-2.1,-2.3,-2.2,-2.4,-2.1,-2.3,-2.2,
-2.1,-2.3,-2.2,-2.4,-2.1,-2.2,-2.3,-2.1,-2.4,-2.2,-2.1,-2.3,-2.2,-2.4,-2.1,-2.3,-2.2,-2.1,-2.3,-2.2,
-2.2,-2.1,-2.3,-2.2,-2.0,-2.3,-2.1,-2.2,-2.4,-2.1,-2.2,-2.0,-2.3,-2.2,-2.1,-2.3,-2.0,-2.2,-2.1,-2.3,
-2.1,-2.2,-2.0,-2.3,-2.1,-2.2,-2.0,-2.1,-2.3,-2.2,-2.0,-2.1,-2.2,-2.3,-2.0,-2.1,-2.2,-2.0,-2.3,-2.1,
-2.0,-2.2,-2.1,-2.0,-2.3,-2.1,-2.0,-2.2,-2.1,-1.9,-2.2,-2.0,-2.1,-2.3,-2.0,-2.1,-1.9,-2.2,-2.0,-2.1,
-2.1,-1.9,-2.2,-2.0,-2.1,-1.9,-2.2,-2.0,-1.8,-2.1,-2.0,-2.2,-1.9,-2.0,-2.1,-1.8,-2.0,-2.2,-1.9,-2.0,
-1.9,-2.1,-2.0,-1.8,-2.1,-1.9,-2.0,-2.2,-1.8,-2.0,-1.9,-2.1,-1.8,-2.0,-1.9,-2.1,-1.7,-2.0,-1.9,-1.8,
-2.0,-1.8,-1.9,-2.1,-1.7,-1.9,-2.0,-1.8,-1.9,-1.7,-2.0,-1.8,-1.9,-1.6,-1.8,-2.0,-1.7,-1.9,-1.8,-1.6,
-1.8,-1.7,-1.9,-1.6,-1.8,-1.7,-1.5,-1.8,-1.6,-1.7,-1.5,-1.6,-1.4,-1.6,-1.5,-1.3,-1.4,-1.2,-1.3,-1.1
];

// ---------- axis settings and texts ----------
const xDomain = [-2.2, 601.9];
const yDomainA = [-8.2, 25];
const yTicksA = [-5, 0, 5, 10, 15, 20, 25];
const yDomainB = [-6.6, 20];
const yTicksB = [-5, 0, 5, 10, 15, 20];

const titlesA = ["α–α contact enrichment", "i.e., % of endocrine contacts that are α–α : observed − random"];
const titlesB = ["δ–δ contact enrichment", "i.e., % of endocrine contacts that are δ–δ : observed − random"];
const notes = ["68% of islets > 0", "63% of islets > 0"];
const yLabels = [["α–α enrichment", "(observed − random, %)"], ["δ–δ enrichment", "(observed − random, %)"]];
const xLabel = "All donors, N=600";

const FONT = '"Liberation Sans", Arial, Helvetica, sans-serif';
const minusFmt = d => d < 0 ? "\u2212" + Math.abs(d) : String(d);
const NGROUPS = 7;

function panel(med, lo, hi, dn, up, yDomain, yTicks, height, mt, mb) {
  const data = med.map((m, i) => ({i, med: m, lo: lo[i], hi: hi[i], dn: dn[i], up: up[i]}));
  const marks = [
    Plot.ruleX(data, {x: "i", y1: "lo", y2: "hi", stroke: "#8f8f8f", strokeOpacity: 0.6, strokeWidth: 0.75, clip: true})
  ];
  for (let k = 0; k < NGROUPS; k++) {
    const g = data.filter(d => d.i % NGROUPS === k);
    const sparse = {x: "i", y1: "lo", y2: "hi", strokeLinecap: "round", strokeDasharray: "0.01,20", strokeDashoffset: k * 2.9, clip: true};
    const dense = {x: "i", y1: "dn", y2: "up", strokeLinecap: "round", strokeDasharray: "0.01,3.2", strokeDashoffset: k * 0.46, clip: true};
    // dark rims of the islet dots
    marks.push(Plot.ruleX(g, {...sparse, stroke: "#333", strokeWidth: 2.8, strokeOpacity: 0.3}));
    marks.push(Plot.ruleX(g, {...dense, stroke: "#333", strokeWidth: 2.8, strokeOpacity: 0.22}));
    // scattered islet dots along each donor's whisker
    marks.push(Plot.ruleX(g, {...sparse, stroke: "med", strokeWidth: 2.1, strokeOpacity: 0.75}));
    // dense islet cloud of each donor
    marks.push(Plot.ruleX(g, {...dense, stroke: "med", strokeWidth: 2.1, strokeOpacity: 0.85}));
  }
  marks.push(
    Plot.dot(data, {x: "i", y: "hi", r: 1.4, fill: "med", fillOpacity: 0.85, stroke: "#444", strokeOpacity: 0.6, strokeWidth: 0.5, clip: true}),
    Plot.dot(data, {x: "i", y: "lo", r: 1.4, fill: "med", fillOpacity: 0.85, stroke: "#444", strokeOpacity: 0.6, strokeWidth: 0.5, clip: true}),
    Plot.ruleY([0], {stroke: "#111", strokeWidth: 2.2, strokeDasharray: "8,4.5"}),
    Plot.dot(data, {x: "i", y: "med", r: 2.8, fill: "#d13b3b", stroke: "#b52c2c", strokeWidth: 0.5}),
    Plot.ruleX([xDomain[0]], {stroke: "#1a1a1a", strokeWidth: 1.8}),
    Plot.ruleY([yDomain[0]], {stroke: "#1a1a1a", strokeWidth: 1.8}),
    Plot.axisY({ticks: yTicks, tickSize: 7, tickPadding: 5, tickFormat: minusFmt, label: null})
  );
  return Plot.plot({
    width: 1920, height,
    marginLeft: 200, marginRight: 59, marginTop: mt, marginBottom: mb,
    x: {domain: xDomain, axis: null},
    y: {domain: yDomain},
    color: {type: "linear", scheme: "viridis", domain: d3.extent(med)},
    style: {background: "transparent", fontFamily: FONT, fontSize: "20px", color: "#1c1c1c", overflow: "visible"},
    marks
  });
}

const root = document.getElementById("root");
function addDiv(cls, html, css) {
  const el = document.createElement("div");
  el.className = cls;
  el.innerHTML = html;
  Object.assign(el.style, css);
  root.appendChild(el);
  return el;
}

const svgA = panel(medA, loA, hiA, dnA, upA, yDomainA, yTicksA, 540, 120, 64);
svgA.classList.add("panel"); svgA.style.top = "0px";
root.appendChild(svgA);
const svgB = panel(medB, loB, hiB, dnB, upB, yDomainB, yTicksB, 540, 92, 92);
svgB.classList.add("panel"); svgB.style.top = "540px";
root.appendChild(svgB);

addDiv("title", titlesA[0] + "<br>" + titlesA[1], {top: "6px"});
addDiv("title", titlesB[0] + "<br>" + titlesB[1], {top: "518px"});
addDiv("note", notes[0], {top: "122px"});
addDiv("note", notes[1], {top: "634px"});
addDiv("ylab", yLabels[0][0], {left: "95px", top: "298px"});
addDiv("ylab", yLabels[0][1], {left: "137px", top: "298px"});
addDiv("ylab", yLabels[1][0], {left: "95px", top: "810px"});
addDiv("ylab", yLabels[1][1], {left: "137px", top: "810px"});
addDiv("xlab", xLabel, {left: "1030px", top: "1027px"});
</script>
</body>
</html>
